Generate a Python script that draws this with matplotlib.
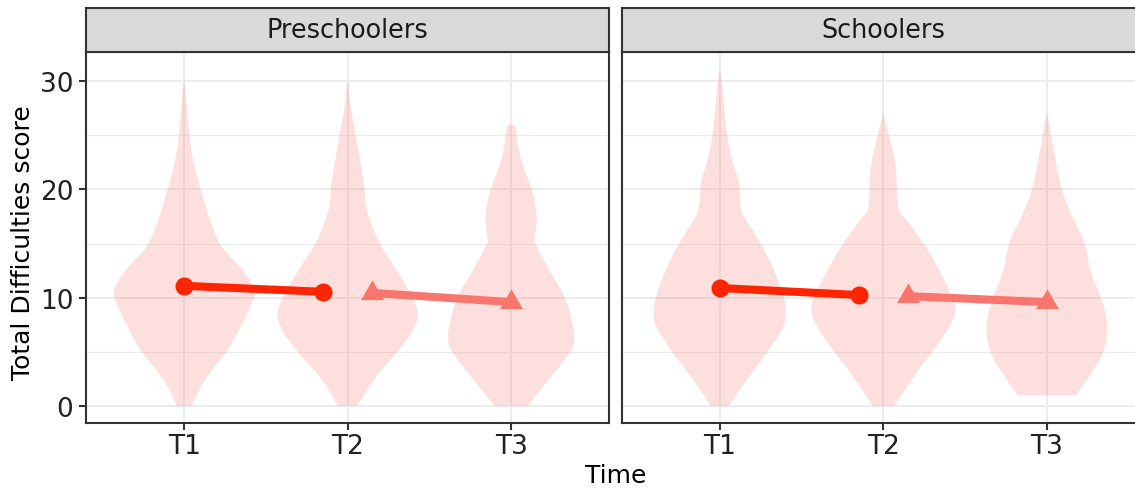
import numpy as np
import matplotlib.pyplot as plt
from matplotlib.path import Path
from matplotlib.patches import PathPatch

plt.rcParams['font.family'] = ['DejaVu Sans']

# Data
times = ['T1', 'T2', 'T3']
groups = ['Preschoolers', 'Schoolers']

# violin outlines: score levels and half widths (in category units)
pre_t1_y = [0, 2.5, 5, 7.7, 10, 10.8, 12.6, 13.8, 15, 17.5, 20, 22.5, 25, 27.5, 30]
pre_t1_w = [0.045, 0.12, 0.265, 0.36, 0.43, 0.435, 0.36, 0.28, 0.21, 0.15, 0.10, 0.055, 0.03, 0.018, 0.004]
pre_t2_y = [0, 2.5, 5, 8, 10, 12.5, 15, 17.5, 18.7, 20, 21.9, 25, 27.5, 30]
pre_t2_w = [0.06, 0.153, 0.31, 0.448, 0.40, 0.305, 0.19, 0.127, 0.106, 0.106, 0.085, 0.05, 0.018, 0.004]
pre_t3_y = [0, 2.5, 5, 6, 7.5, 10, 12.5, 15, 15.5, 17.5, 20, 22.5, 25, 26]
pre_t3_w = [0.10, 0.234, 0.367, 0.39, 0.38, 0.336, 0.234, 0.143, 0.143, 0.163, 0.13, 0.06, 0.03, 0.028]

sch_t1_y = [0, 2.5, 5, 7.5, 8.5, 10, 12.5, 15, 17.5, 18.5, 20, 21, 22.5, 25, 27.5, 30, 31]
sch_t1_w = [0.055, 0.163, 0.295, 0.40, 0.407, 0.396, 0.335, 0.254, 0.142, 0.124, 0.12, 0.115, 0.075, 0.043, 0.027, 0.013, 0.002]
sch_t2_y = [0, 2.5, 5, 7.5, 9, 10, 12.5, 15, 17.5, 18, 20, 22.5, 25, 27]
sch_t2_w = [0.066, 0.173, 0.30, 0.417, 0.448, 0.427, 0.345, 0.25, 0.127, 0.09, 0.083, 0.078, 0.033, 0.003]
sch_t3_y = [1, 2.5, 5, 7.5, 10, 12.5, 15, 17.5, 20, 22.5, 25, 27]
sch_t3_w = [0.178, 0.25, 0.356, 0.376, 0.335, 0.26, 0.24, 0.152, 0.087, 0.056, 0.026, 0.003]

violins = {
    'Preschoolers': [(pre_t1_y, pre_t1_w), (pre_t2_y, pre_t2_w), (pre_t3_y, pre_t3_w)],
    'Schoolers': [(sch_t1_y, sch_t1_w), (sch_t2_y, sch_t2_w), (sch_t3_y, sch_t3_w)],
}

# mean scores, T1->T2 (circles) and T2->T3 (triangles)
pre_t12 = [11.1, 10.55]
pre_t23 = [10.45, 9.6]
sch_t12 = [10.9, 10.25]
sch_t23 = [10.15, 9.6]
means12 = {'Preschoolers': pre_t12, 'Schoolers': sch_t12}
means23 = {'Preschoolers': pre_t23, 'Schoolers': sch_t23}

dodge = 0.15
red = '#FF2500'
salmon = '#F8766D'
dark = '#333333'
grid_col = '#EBEBEB'


def violin_path(xc, ys, ws):
    # smooth outline: control points from the read widths, on-curve at midpoints
    right = [(xc + w, y) for y, w in zip(ys, ws)]
    left = [(xc - w, y) for y, w in zip(ys[::-1], ws[::-1])]
    pts = right + left
    verts = [pts[0]]
    codes = [Path.MOVETO]
    for i in range(1, len(pts) - 1):
        mid = ((pts[i][0] + pts[i + 1][0]) / 2, (pts[i][1] + pts[i + 1][1]) / 2)
        verts += [pts[i], mid]
        codes += [Path.CURVE3, Path.CURVE3]
    verts += [pts[-1], pts[0]]
    codes += [Path.LINETO, Path.CLOSEPOLY]
    return Path(verts, codes)


tri = [(0, 1), (-0.866, -0.5), (0.866, -0.5)]

W, H = 1135, 489
fig = plt.figure(figsize=(W / 100, H / 100), dpi=100)
fig.patch.set_facecolor('white')

panel_left = [86, 621.7]
panel_w = 523.3
panel_top, panel_bot = 53, 423.7
strip_top = 9.3

for k, grp in enumerate(groups):
    x0 = panel_left[k]
    ax = fig.add_axes([x0 / W, 1 - panel_bot / H, panel_w / W, (panel_bot - panel_top) / H])
    ax.set_xlim(-0.6, 2.6)
    ax.set_ylim(-1.53, 32.68)

    # grid
    for yv in [5, 15, 25]:
        ax.axhline(yv, color=grid_col, lw=0.8, zorder=0)
    for yv in [0, 10, 20, 30]:
        ax.axhline(yv, color=grid_col, lw=1.3, zorder=0)
    for xv in range(3):
        ax.axvline(xv, color=grid_col, lw=1.3, zorder=0)

    for i, (ys, ws) in enumerate(violins[grp]):
        ax.add_patch(PathPatch(violin_path(i, ys, ws), facecolor=salmon, alpha=0.22,
                               edgecolor='none', zorder=1))

    m12 = means12[grp]
    m23 = means23[grp]
    ax.plot([0, 1 - dodge], m12, color=red, lw=5.8, solid_capstyle='butt', zorder=3)
    ax.plot([0, 1 - dodge], m12, 'o', color=red, ms=13, mec='none', zorder=4)
    ax.plot([1 + dodge, 2], m23, color=salmon, lw=5.8, solid_capstyle='butt', zorder=3)
    ax.plot([1 + dodge, 2], m23, marker=tri, ls='none', color=salmon, ms=19, mec='none', zorder=4)

    ax.set_xticks(range(3))
    ax.set_xticklabels(times)
    ax.set_yticks([0, 10, 20, 30])
    ax.tick_params(axis='both', length=5, width=1.5, color=dark, labelsize=19,
                   labelcolor='#222222')
    ax.tick_params(axis='y', pad=4)
    ax.tick_params(axis='x', pad=2.5)
    if k == 1:
        ax.tick_params(axis='y', left=False, labelleft=False)
    for s in ax.spines.values():
        s.set_color(dark)
        s.set_linewidth(1.5)

    sax = fig.add_axes([x0 / W, 1 - panel_top / H, panel_w / W, (panel_top - strip_top) / H])
    sax.set_facecolor('#D9D9D9')
    sax.set_xticks([])
    sax.set_yticks([])
    for s in sax.spines.values():
        s.set_color(dark)
        s.set_linewidth(1.5)
    sax.text(0.5, 0.5, grp, ha='center', va='center', fontsize=18.4,
             color='#1A1A1A', transform=sax.transAxes)

fig.text(23 / W, 1 - 243 / H, 'Total Difficulties score', rotation=90,
         ha='center', va='center', fontsize=18)
fig.text(616 / W, 1 - 476 / H, 'Time', ha='center', va='center', fontsize=18)

fig.savefig('out.png', dpi=100)
